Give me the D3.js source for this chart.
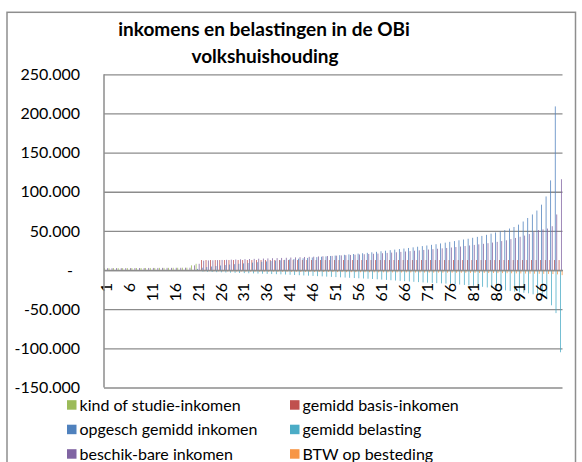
<!DOCTYPE html>
<html>
<head>
<meta charset="utf-8">
<script src="https://cdn.jsdelivr.net/npm/d3@7"></script>
<style>
  body { margin: 0; background: #fff; }
  svg { display: block; font-family: Lato, "Open Sans", sans-serif; }
</style>
</head>
<body>
<div id="chart"></div>
<script>
const categories = [
  1, 2, 3, 4, 5, 6, 7, 8, 9, 10,
  11, 12, 13, 14, 15, 16, 17, 18, 19, 20,
  21, 22, 23, 24, 25, 26, 27, 28, 29, 30,
  31, 32, 33, 34, 35, 36, 37, 38, 39, 40,
  41, 42, 43, 44, 45, 46, 47, 48, 49, 50,
  51, 52, 53, 54, 55, 56, 57, 58, 59, 60,
  61, 62, 63, 64, 65, 66, 67, 68, 69, 70,
  71, 72, 73, 74, 75, 76, 77, 78, 79, 80,
  81, 82, 83, 84, 85, 86, 87, 88, 89, 90,
  91, 92, 93, 94, 95, 96, 97, 98, 99, 100
];
const xTickLabels = ["1", "6", "11", "16", "21", "26", "31", "36", "41", "46",
  "51", "56", "61", "66", "71", "76", "81", "86", "91", "96"];
const yTicks = [-150000, -100000, -50000, 0, 50000, 100000, 150000, 200000, 250000];

const seriesNames = ["kind of studie-inkomen", "gemidd basis-inkomen", "opgesch gemidd inkomen",
  "gemidd belasting", "beschik-bare inkomen", "BTW op besteding"];
const seriesColors = ["#9BBB59", "#C0504D", "#4F81BD", "#4BACC6", "#8064A2", "#F79646"];

const kindStudie = [
  2400, 2400, 2500, 2500, 2500, 2500, 2600, 2600, 2600, 2700,
  2700, 2700, 2800, 2800, 2800, 2900, 2900, 3000, 3000, 6000,
  8000, 0, 0, 0, 0, 0, 0, 0, 0, 0,
  0, 0, 0, 0, 0, 0, 0, 0, 0, 0,
  0, 0, 0, 0, 0, 0, 0, 0, 0, 0,
  0, 0, 0, 0, 0, 0, 0, 0, 0, 0,
  0, 0, 0, 0, 0, 0, 0, 0, 0, 0,
  0, 0, 0, 0, 0, 0, 0, 0, 0, 0,
  0, 0, 0, 0, 0, 0, 0, 0, 0, 0,
  0, 0, 0, 0, 0, 0, 0, 0, 0, 0
];
const basisInkomen = [
  0, 0, 0, 0, 0, 0, 0, 0, 0, 0,
  0, 0, 0, 0, 0, 0, 0, 0, 0, 0,
  0, 12800, 12800, 12800, 12800, 12800, 12800, 12800, 12800, 12800,
  12800, 12800, 12800, 12800, 12800, 12800, 12800, 12800, 12800, 12800,
  12800, 12800, 12800, 12800, 12800, 12800, 12800, 12800, 12800, 12800,
  12800, 12800, 12800, 12800, 12800, 12800, 12800, 12800, 12800, 12800,
  12800, 12800, 12800, 12800, 12800, 12800, 12800, 12800, 12800, 12800,
  12800, 12800, 12800, 12800, 12800, 12800, 12800, 12800, 12800, 12800,
  12800, 12800, 12800, 12800, 12800, 12800, 12800, 12800, 12800, 12800,
  12800, 12800, 12800, 12800, 12800, 12800, 12800, 12800, 12800, 12800
];
const opgeschInkomen = [
  0, 0, 0, 0, 0, 0, 0, 0, 0, 0,
  0, 0, 0, 0, 0, 0, 0, 0, 0, 0,
  1500, 3000, 3800, 4500, 5200, 5800, 6400, 7000, 7500, 8000,
  8500, 9000, 9500, 10000, 10500, 11000, 11500, 12000, 12500, 13000,
  13500, 14000, 14500, 15000, 15500, 16000, 16500, 17000, 17500, 18000,
  18500, 19000, 19500, 20000, 20500, 21000, 21500, 22000, 22700, 23300,
  24000, 24700, 25400, 26100, 26800, 27500, 28200, 29000, 29800, 30600,
  31400, 32200, 33000, 34000, 35000, 36000, 37000, 38000, 39000, 40000,
  41200, 42400, 43600, 45000, 46500, 48000, 49500, 51000, 53000, 55000,
  58000, 62000, 66500, 71000, 76000, 83500, 94000, 114500, 209000, 0
];
const belasting = [
  0, 0, 0, 0, 0, 0, 0, 0, 0, 0,
  0, 0, 0, 0, 0, 0, 0, 0, 0, 0,
  -1000, -2000, -2200, -2500, -2700, -2900, -3100, -3300, -3500, -3700,
  -3900, -4100, -4300, -4500, -4700, -4900, -5100, -5300, -5500, -5700,
  -6000, -6300, -6600, -6900, -7200, -7500, -7800, -8100, -8400, -8700,
  -9000, -9300, -9600, -9900, -10200, -10500, -10800, -11100, -11400, -11800,
  -12200, -12600, -13000, -13400, -13800, -14200, -14600, -15000, -15400, -15800,
  -16100, -16400, -16700, -17000, -17300, -17700, -18100, -18500, -19000, -19500,
  -20000, -20700, -21400, -22200, -23000, -24000, -25000, -26000, -26800, -27600,
  -28400, -29000, -29700, -31000, -32500, -34000, -36500, -45000, -55000, -105000
];
const beschikbaar = [
  2400, 2400, 2500, 2500, 2500, 2500, 2600, 2600, 2600, 2700,
  2700, 2700, 2800, 2800, 2800, 2900, 2900, 3000, 3000, 6000,
  8000, 12000, 12300, 12500, 12700, 12900, 13100, 13300, 13500, 13700,
  13900, 14100, 14300, 14500, 14700, 14900, 15100, 15300, 15500, 15700,
  16000, 16200, 16400, 16700, 16900, 17100, 17400, 17600, 17900, 18100,
  18400, 18700, 19000, 19300, 19600, 19900, 20200, 20500, 20800, 21100,
  21500, 21900, 22300, 22700, 23200, 23700, 24200, 24700, 25200, 25700,
  26200, 26700, 27200, 27700, 28200, 28800, 29400, 30000, 30700, 31400,
  32100, 32800, 33500, 34300, 35100, 36000, 37000, 38000, 39500, 41000,
  42500, 44000, 46000, 48500, 51000, 52000, 53000, 56000, 71000, 116000
];
const btw = [
  -100, -100, -100, -100, -100, -100, -100, -100, -100, -100,
  -100, -100, -100, -100, -100, -100, -100, -100, -100, -300,
  -400, -1500, -1500, -1600, -1600, -1700, -1700, -1800, -1800, -1900,
  -1900, -2000, -2000, -2000, -2100, -2100, -2100, -2200, -2200, -2200,
  -2300, -2300, -2300, -2400, -2400, -2400, -2500, -2500, -2500, -2600,
  -2600, -2600, -2700, -2700, -2700, -2800, -2800, -2800, -2900, -2900,
  -2900, -3000, -3000, -3000, -3100, -3100, -3100, -3200, -3200, -3200,
  -3300, -3300, -3300, -3400, -3400, -3400, -3500, -3500, -3500, -3600,
  -3600, -3700, -3700, -3800, -3800, -3900, -3900, -4000, -4100, -4200,
  -4300, -4400, -4500, -4600, -4700, -4800, -4900, -5100, -5500, -6500
];

const seriesValues = [kindStudie, basisInkomen, opgeschInkomen, belasting, beschikbaar, btw];

const width = 582, height = 462;
const plot = { left: 104, right: 562.5, top: 74.3, bottom: 387.5 };
const gridColor = "#8C8C8C";

const nl = d3.formatLocale({ decimal: ",", thousands: ".", grouping: [3], currency: ["€", ""], minus: "-" });
const fmt = nl.format(",.0f");

const svg = d3.select("#chart").append("svg")
  .attr("width", width)
  .attr("height", height);

// chart area border
svg.append("rect")
  .attr("x", 7).attr("y", 12.3)
  .attr("width", 568.5).attr("height", 480)
  .attr("fill", "#fff")
  .attr("stroke", "#8E8E8E")
  .attr("stroke-width", 1.5);

svg.append("text")
  .attr("x", 264).attr("y", 35.5)
  .attr("text-anchor", "middle")
  .style("font-size", "19px").style("font-weight", "bold")
  .text("inkomens en belastingen in de OBi");
svg.append("text")
  .attr("x", 265).attr("y", 62.5)
  .attr("text-anchor", "middle")
  .style("font-size", "19px").style("font-weight", "bold")
  .text("volkshuishouding");

const x = d3.scaleBand().domain(categories).range([plot.left, plot.right]).padding(0);
const xSub = d3.scaleBand().domain(d3.range(seriesNames.length)).range([0, x.bandwidth()]).padding(0);
const y = d3.scaleLinear().domain([-150000, 250000]).range([plot.bottom, plot.top]);

// gridlines + y labels
const yAxis = svg.append("g")
  .attr("transform", `translate(${plot.left},0)`)
  .call(d3.axisLeft(y).tickValues(yTicks).tickSize(-(plot.right - plot.left)).tickPadding(24)
    .tickFormat(d => d === 0 ? "-" : fmt(d)));
yAxis.select(".domain").remove();
yAxis.selectAll(".tick line").attr("stroke", gridColor).attr("stroke-width", 1.3);
yAxis.selectAll(".tick text")
  .attr("fill", "#000")
  .style("font-size", "16px")
  .style("font-family", "Lato, sans-serif");
yAxis.selectAll(".tick").filter(d => d === 0).select("text").attr("x", -31);

// bars
const barsG = svg.append("g");
seriesValues.forEach((vals, si) => {
  barsG.append("g")
    .attr("fill", seriesColors[si])
    .selectAll("rect")
    .data(categories.map((c, i) => ({ c, v: vals[i] })).filter(d => d.v !== 0))
    .join("rect")
    .attr("x", d => x(d.c) + xSub(si))
    .attr("width", xSub.bandwidth())
    .attr("y", d => y(Math.max(0, d.v)))
    .attr("height", d => Math.abs(y(d.v) - y(0)));
});

// category axis
const xAxis = svg.append("g")
  .attr("transform", `translate(0,${y(0)})`)
  .call(d3.axisBottom(x).tickValues(xTickLabels.map(Number)).tickSize(0).tickFormat(d => String(d)));
xAxis.select(".domain").attr("stroke", gridColor).attr("stroke-width", 1.5);
xAxis.selectAll(".tick text")
  .attr("fill", "#000")
  .style("font-size", "16px")
  .style("font-family", "Lato, sans-serif")
  .attr("text-anchor", "end")
  .attr("transform", "rotate(-90)")
  .attr("x", -13)
  .attr("y", 0)
  .attr("dy", "0.35em");

// value axis line
svg.append("line")
  .attr("x1", plot.left).attr("x2", plot.left)
  .attr("y1", plot.top).attr("y2", plot.bottom)
  .attr("stroke", gridColor).attr("stroke-width", 1.5);

// legend
const legend = svg.append("g").style("font-size", "16px");
const legItems = legend.selectAll("g")
  .data(seriesNames.map((name, i) => ({ name, color: seriesColors[i], col: i % 2, row: Math.floor(i / 2) })))
  .join("g")
  .attr("transform", d => `translate(${d.col === 0 ? 67 : 290},${405 + d.row * 24.5})`);
legItems.append("rect")
  .attr("x", 0).attr("y", -4.8)
  .attr("width", 9.5).attr("height", 9.5)
  .attr("fill", d => d.color);
legItems.append("text")
  .attr("x", 12.5).attr("dy", "0.35em")
  .attr("fill", "#000")
  .text(d => d.name);
</script>
</body>
</html>
